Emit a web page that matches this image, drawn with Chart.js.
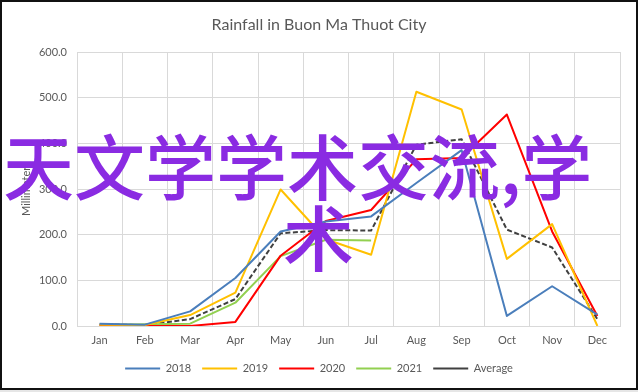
<!DOCTYPE html>
<html>
<head>
<meta charset="utf-8">
<script src="https://cdn.jsdelivr.net/npm/chart.js@4/dist/chart.umd.min.js"></script>
<style>
  html, body { margin: 0; padding: 0; background: #e6e6e6; }
  #wrap { position: relative; width: 638px; height: 390px; overflow: hidden; background: #fff; }
  #myChart { position: absolute; left: 0; top: 0; }
  #frame {
    position: absolute; left: 0; top: 0; width: 638px; height: 390px;
    box-sizing: border-box; border: 2px solid #111; pointer-events: none;
  }
  .stamp {
    position: absolute; color: #8a2be2; font-family: "Noto Sans CJK SC", sans-serif;
    font-size: 71px; line-height: 71px; white-space: nowrap; font-weight: 500;
  }
</style>
</head>
<body>
<div id="wrap">
  <canvas id="myChart" width="638" height="390"></canvas>
  <div id="frame"></div>
  <div class="stamp" style="left:3px; top:128px;">天文学学术交流,学</div>
  <div class="stamp" style="left:283px; top:199px;">术</div>
</div>
<script>
const months = ["Jan", "Feb", "Mar", "Apr", "May", "Jun", "Jul", "Aug", "Sep", "Oct", "Nov", "Dec"];
const rain2018 = [5, 3, 32, 105, 207, 229, 240, 313, 385, 22, 87, 25];
const rain2019 = [3, 2, 24, 73, 299, 190, 156, 513, 474, 147, 223, 0];
const rain2020 = [1, 0, 0, 9, 154, 230, 254, 365, 368, 463, 207, 22];
const rain2021 = [2, 4, 5, 51, 153, 189, 187, null, null, null, null, null];
const rainAverage = [4, 2, 15, 59, 203, 210, 209, 397, 409, 211, 172, 15];
const yTicks = [0, 100, 200, 300, 400, 500, 600];

const textGray = "#595959";
const gridGray = "#d9d9d9";
const font = { family: "Lato, 'Liberation Sans', sans-serif", size: 11 };

function series(label, data, color, dash) {
  return {
    label: label,
    data: data,
    borderColor: color,
    backgroundColor: color,
    borderWidth: 2,
    borderDash: dash || [],
    borderJoinStyle: "round",
    pointRadius: 0,
    tension: 0,
    spanGaps: false,
  };
}

const ctx = document.getElementById("myChart").getContext("2d");
const myChart = new Chart(ctx, {
  type: "line",
  data: {
    labels: months,
    datasets: [
      series("2018", rain2018, "#4a7ebb"),
      series("2019", rain2019, "#ffc000"),
      series("2020", rain2020, "#ff0000"),
      series("2021", rain2021, "#92d050"),
      series("Average", rainAverage, "#404040", [5, 2.5]),
    ],
  },
  options: {
    responsive: false,
    animation: false,
    layout: { padding: { left: 10, right: 10, top: 3, bottom: 6 } },
    plugins: {
      title: {
        display: true,
        text: "Rainfall in Buon Ma Thuot City",
        color: textGray,
        font: { family: font.family, size: 16, weight: "normal" },
        padding: { top: 12.4, bottom: 17.4 },
      },
      legend: {
        position: "bottom",
        labels: {
          color: textGray,
          font: font,
          usePointStyle: true,
          pointStyle: "line",
          pointStyleWidth: 35,
          padding: 11,
        },
      },
      tooltip: { enabled: false },
    },
    scales: {
      x: {
        offset: true,
        grid: { offset: true, color: gridGray, drawTicks: false },
        border: { color: gridGray },
        ticks: { color: textGray, font: font, padding: 8, maxRotation: 0 },
        afterFit(scale) { scale.height = 26; },
      },
      y: {
        min: 0,
        max: 600,
        afterBuildTicks(scale) { scale.ticks = yTicks.map(v => ({ value: v })); },
        ticks: { color: textGray, font: font, padding: 10, callback: v => v.toFixed(1) },
        grid: { color: gridGray, drawTicks: false },
        border: { display: false },
        title: {
          display: true,
          text: "Millimeters",
          color: textGray,
          font: font,
          padding: { top: 10, bottom: 0 },
        },
        afterFit(scale) { scale.width = 67; },
      },
      y2: {
        position: "right",
        display: true,
        grid: { display: false },
        border: { display: false },
        ticks: { display: false },
        afterFit(scale) { scale.width = 8; },
      },
    },
  },
});
</script>
</body>
</html>
